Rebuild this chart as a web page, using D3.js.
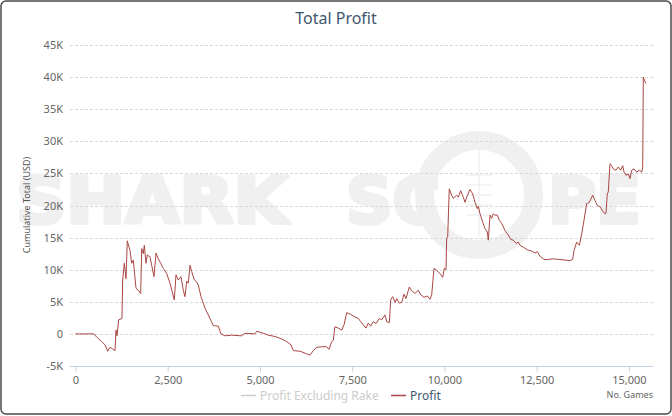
<!DOCTYPE html>
<html>
<head>
<meta charset="utf-8">
<script src="https://cdn.jsdelivr.net/npm/d3@7"></script>
<style>
  body { margin: 0; background: #fff; }
  text { font-family: "Noto Sans", "DejaVu Sans", sans-serif; }
  text.wm { font-family: "DejaVu Sans", sans-serif; font-weight: bold; }
</style>
</head>
<body>
<script>
// chart size
var width = 672
var height = 416

// data: number of games -> cumulative profit (USD)
var games = [0, 500, 575, 710, 800, 873, 935, 997, 1071, 1098, 1125, 1171, 1260, 1279, 1323, 1369, 1404, 1477, 1523, 1567,
  1640, 1702, 1767, 1794, 1838, 1865, 1911, 1946, 2019, 2065, 2128, 2182, 2244, 2309, 2380, 2472, 2561, 2678, 2724, 2786,
  2860, 2922, 2968, 3014, 3057, 3104, 3150, 3220, 3285, 3329, 3402, 3510, 3600, 3735, 3871, 3944, 4052, 4234, 4505, 4594,
  4865, 4911, 5090, 5226, 5407, 5589, 5725, 5841, 5904, 6085, 6267, 6356, 6446, 6538, 6673, 6809, 6871, 6944, 6988, 7030,
  7123, 7215, 7278, 7351, 7441, 7549, 7665, 7730, 7801, 7874, 7936, 8001, 8072, 8145, 8234, 8300, 8389, 8435, 8506, 8543,
  8598, 8660, 8706, 8777, 8842, 8904, 8958, 9048, 9113, 9202, 9292, 9357, 9446, 9536, 9609, 9655, 9717, 9790, 9880, 9953,
  9996, 10042, 10061, 10088, 10131, 10196, 10240, 10332, 10376, 10441, 10511, 10557, 10603, 10693, 10766, 10829, 10891, 10918, 10964, 11037,
  11100, 11162, 11189, 11235, 11281, 11325, 11371, 11433, 11487, 11552, 11642, 11731, 11796, 11867, 11940, 12002, 12048, 12138, 12246, 12365,
  12455, 12517, 12590, 12699, 12815, 12951, 13086, 13132, 13403, 13476, 13512, 13585, 13656, 13721, 13783, 13856, 13927, 14019, 14081, 14144,
  14217, 14306, 14352, 14379, 14414, 14441, 14487, 14533, 14577, 14650, 14712, 14778, 14832, 14867, 14921, 14984, 15030, 15076, 15138, 15211,
  15282, 15347, 15374, 15390, 15409, 15462]
var profit = [0, 0, -500, -1200, -1700, -2700, -2100, -2300, -2600, 600, -300, 2200, 2400, 8400, 11000, 8600, 14500, 13000, 11000, 11500,
  7100, 6800, 6300, 13300, 12500, 13800, 11000, 12300, 12000, 10700, 8900, 12600, 11700, 11000, 10200, 9400, 7900, 5300, 9200, 8400,
  8900, 6800, 5800, 8200, 7900, 10700, 9700, 8400, 8100, 7600, 5800, 4000, 2950, 1300, 1200, 0, -300, -200, -300, 100,
  0, 400, 100, -200, -400, -800, -1200, -1700, -2600, -2700, -3100, -3300, -2600, -2100, -2000, -2000, -2400, -1200, -1000, 1100,
  900, 600, 1400, 3300, 3100, 2700, 2400, 1900, 1400, 900, 1700, 1200, 1900, 1600, 2400, 2200, 2950, 1900, 1750, 5300,
  5800, 4900, 5500, 4800, 4900, 6200, 5500, 7300, 6700, 6300, 6800, 6100, 5700, 5900, 5400, 6100, 10200, 9900, 9400, 8800,
  10200, 10000, 14900, 15100, 22600, 21600, 21100, 21600, 21300, 22300, 21300, 20500, 21300, 22500, 21800, 20500, 19500, 19900, 18700, 17400,
  16400, 15900, 14600, 18500, 18000, 18700, 18500, 18500, 17700, 17200, 16100, 15400, 14700, 14600, 14100, 14300, 13800, 13500, 13100, 12900,
  12600, 12800, 12100, 11600, 11600, 11700, 11600, 11600, 11400, 11600, 13000, 14300, 13800, 15600, 17700, 20300, 20500, 21600, 20800, 20000,
  19800, 19000, 18700, 18800, 21800, 22100, 26500, 26200, 25700, 25500, 26000, 25500, 26200, 25200, 24700, 24900, 24200, 25500, 25700, 25200,
  25500, 25200, 26000, 40000, 39700, 39000]

var yTicks = [-5000, 0, 5000, 10000, 15000, 20000, 25000, 30000, 35000, 40000, 45000]
var xTicks = [0, 2500, 5000, 7500, 10000, 12500, 15000]

var data = games.map(function(g, i){ return {g: g, v: profit[i]} })

var svg = d3.select("body")
  .append("svg")
    .attr("width", width)
    .attr("height", height)

// outer frame
svg.append("rect")
  .attr("x", 1).attr("y", 1)
  .attr("width", width - 2).attr("height", height - 3)
  .attr("rx", 5)
  .attr("fill", "#fff")
  .attr("stroke", "#4a4a4a")
  .attr("stroke-width", 1.5)

var x = d3.scaleLinear().domain([-149, 15653]).range([70, 653])
var y = d3.scaleLinear().domain([-5000, 45000]).range([366, 45])

// watermark (letters scaled horizontally to fill their span)
var wm = svg.append("g").attr("fill", "#f0f0f0")
function wmText(t, x0, w) {
  var el = wm.append("text").attr("class", "wm")
    .attr("font-size", 64)
    .attr("stroke", "#f0f0f0")
    .attr("stroke-width", 4)
    .attr("stroke-linejoin", "round")
    .text(t)
  var natural = el.node().getComputedTextLength()
  el.attr("transform", "translate(" + (x0 + 2) + ",223) scale(" + ((w - 4) / natural) + ",1)")
}
wmText("SHARK", 14, 276)
wmText("SC", 344, 98)
wmText("PE", 546, 97)
wm.append("circle").attr("cx", 479).attr("cy", 195).attr("r", 54.5)
  .attr("fill", "none").attr("stroke", "#f0f0f0").attr("stroke-width", 19)
wm.append("line").attr("x1", 479).attr("x2", 479).attr("y1", 150).attr("y2", 240)
  .attr("stroke", "#eaeaea").attr("stroke-width", 1)
;[175, 185, 195, 205, 215].forEach(function(t){
  wm.append("line").attr("x1", 466).attr("x2", 492).attr("y1", t).attr("y2", t)
    .attr("stroke", "#eaeaea").attr("stroke-width", 1)
})

// grid
svg.append("g")
  .selectAll("line")
  .data(yTicks.filter(function(d){ return d > -5000 }))
  .enter()
  .append("line")
    .attr("x1", 70).attr("x2", 653)
    .attr("y1", function(d){ return Math.round(y(d)) + 0.5 })
    .attr("y2", function(d){ return Math.round(y(d)) + 0.5 })
    .attr("stroke", "#d9d9d9")
    .attr("stroke-dasharray", "3,2")

// y labels
svg.append("g")
  .selectAll("text")
  .data(yTicks)
  .enter()
  .append("text")
    .attr("x", 63)
    .attr("y", function(d){ return y(d) + 4 })
    .attr("text-anchor", "end")
    .attr("font-size", 11)
    .attr("fill", "#666")
    .text(function(d){ return d == 0 ? "0" : (d / 1000) + "K" })

svg.append("text")
  .attr("transform", "translate(30,205) rotate(-90)")
  .attr("text-anchor", "middle")
  .attr("font-size", 9)
  .attr("fill", "#555")
  .text("Cumulative Total (USD)")

// x axis
var xAxis = d3.axisBottom(x)
  .tickValues(xTicks)
  .tickSize(5)
  .tickFormat(d3.format(","))
var gx = svg.append("g")
  .attr("transform", "translate(0,366.5)")
  .call(xAxis)
gx.select(".domain").attr("d", "M70,0H653").attr("stroke", "#c0d0e0")
gx.selectAll(".tick line").attr("stroke", "#c0d0e0")
gx.selectAll(".tick text")
  .attr("font-size", 11)
  .attr("font-family", "'Noto Sans', sans-serif")
  .attr("fill", "#666")
  .attr("dy", "0.9em")

svg.append("text")
  .attr("x", 653).attr("y", 398)
  .attr("text-anchor", "end")
  .attr("font-size", 9)
  .attr("fill", "#666")
  .text("No. Games")

// profit line
var line = d3.line()
  .x(function(d){ return x(d.g) })
  .y(function(d){ return y(d.v) })
svg.append("path")
  .datum(data)
  .attr("d", line)
  .attr("fill", "none")
  .attr("stroke", "#aa4643")
  .attr("stroke-width", 1)
  .attr("stroke-linejoin", "round")

// legend
var lg = svg.append("g")
lg.append("line").attr("x1", 241).attr("x2", 256).attr("y1", 395.5).attr("y2", 395.5)
  .attr("stroke", "#ccc").attr("stroke-width", 1.5)
lg.append("text").attr("x", 260).attr("y", 400).attr("font-size", 12).attr("fill", "#ccc")
  .text("Profit Excluding Rake")
lg.append("line").attr("x1", 391).attr("x2", 406).attr("y1", 395.5).attr("y2", 395.5)
  .attr("stroke", "#aa4643").attr("stroke-width", 1.5)
lg.append("text").attr("x", 410).attr("y", 400).attr("font-size", 12).attr("fill", "#3e576f")
  .text("Profit")

// title
svg.append("text")
  .attr("x", 336).attr("y", 24)
  .attr("text-anchor", "middle")
  .attr("font-size", 16)
  .attr("fill", "#3e576f")
  .text("Total Profit")
</script>
</body>
</html>
